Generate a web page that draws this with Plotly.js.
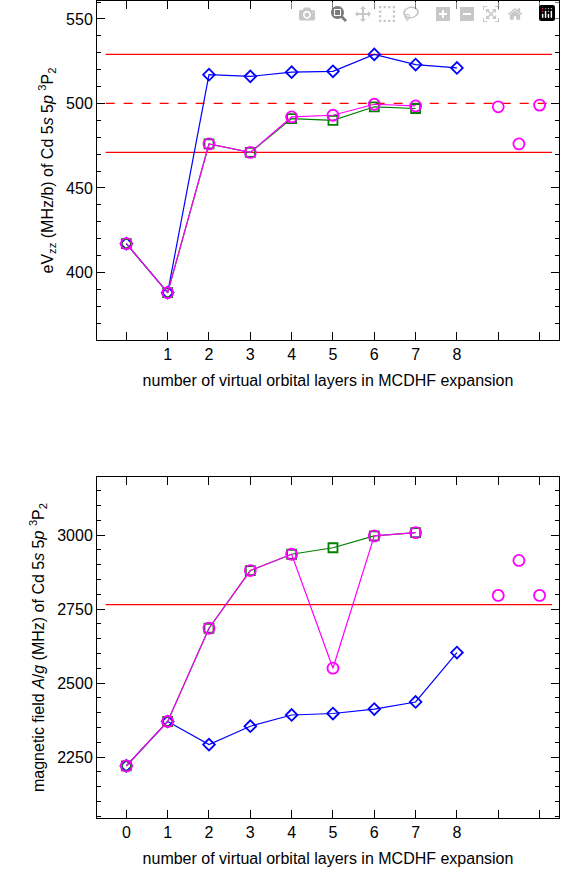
<!DOCTYPE html>
<html><head><meta charset="utf-8">
<script src="https://cdn.plot.ly/plotly-3.0.1.min.js"></script>
</head><body style="margin:0"><div id="c"></div>
<script>
// layer index
const layers=[0,1,2,3,4,5,6,7];
const layersBlue=[0,1,2,3,4,5,6,7,8];
const extraX=[9,9.5,10];
const refX=[-0.5,10.3];

// top panel: eVzz (MHz/b)
const efgBlue=[417,388,517,516,518.5,519,529,523,521];
const efgGreen=[417,388,476,471,491,490,498,497];
const efgMag=[417,388,476,471,492,493,499.5,498.5];
const efgExtra=[498,476,499];
const efgRefLines=[529,471];
const efgDashed=500;

// bottom panel: A/g (MHz)
const agBlue=[2220,2370,2292,2354,2392,2397,2412,2436,2603];
const agGreen=[2220,2370,2685,2880,2935,2957,2997,3008];
const agMag=[2220,2370,2685,2880,2935,2550,2997,3008];
const agExtra=[2796,2914,2796];
const agRefLine=2765;

const BLUE="blue",GREEN="green",MAG="magenta",RED="red";
const mk=(sym,c)=>({symbol:sym,size:sym.startsWith("circle")?11:9,color:c,line:{color:c,width:1.8}});
const series=(x,y,c,sym,ax,mode)=>({x,y,mode:mode||"lines+markers",xaxis:ax[0],yaxis:ax[1],
  line:{color:c,width:1.2},marker:mk(sym,c),cliponaxis:false});
const ref=(y,ax,dash)=>({x:refX,y:[y,y],mode:"lines",xaxis:ax[0],yaxis:ax[1],
  line:{color:RED,width:1.3,dash:dash||"solid"}});

const T=["x","y"],B=["x2","y2"];
const traces=[
  ref(efgRefLines[0],T),ref(efgRefLines[1],T),ref(efgDashed,T,"dash"),ref(agRefLine,B),
  series(layersBlue,efgBlue,BLUE,"diamond-open",T),
  series(layers,efgGreen,GREEN,"square-open",T),
  series(layers,efgMag,MAG,"circle-open",T),
  series(extraX,efgExtra,MAG,"circle-open",T,"markers"),
  series(layersBlue,agBlue,BLUE,"diamond-open",B),
  series(layers,agGreen,GREEN,"square-open",B),
  series(layers,agMag,MAG,"circle-open",B),
  series(extraX,agExtra,MAG,"circle-open",B,"markers")
];

const mt=1,mb=44,H=884,ph=H-mt-mb;
const dom=(top,bot)=>[(H-mb-bot)/ph,(H-mb-top)/ph];
const tf=()=>({family:"Liberation Sans",size:16});
const ax=()=>({ticks:"inside",ticklen:8,tickwidth:1,tickcolor:"black",showline:true,mirror:"allticks",
  linecolor:"black",linewidth:1,showgrid:false,zeroline:false,color:"black",layer:"above traces",tickfont:tf()});
const xtitle="number of virtual orbital layers in MCDHF expansion";

Plotly.newPlot("c",traces,{
  width:561,height:884,margin:{l:97,r:2,t:mt,b:mb},font:{family:"Liberation Sans",color:"black"},
  xaxis:Object.assign(ax(),{domain:[0,1],anchor:"y",range:[-0.71,10.47],tickmode:"array",tickvals:[0,1,2,3,4,5,6,7,8,9,10],
    ticktext:["","1","2","3","4","5","6","7","8","",""],title:{text:xtitle,font:tf(),standoff:12}}),
  yaxis:Object.assign(ax(),{domain:dom(1,340),anchor:"x",range:[360,560.6],tickmode:"array",tickvals:[400,450,500,550],
    minor:{ticks:"inside",ticklen:4,dtick:10,tickcolor:"black"},
    title:{text:"eV<sub>zz</sub> (MHz/b) of Cd 5<i>s</i> 5<i>p</i> <sup>3</sup>P<sub>2</sub>",font:tf(),standoff:8}}),
  xaxis2:Object.assign(ax(),{domain:[0,1],anchor:"y2",range:[-0.71,10.47],tickmode:"array",tickvals:[0,1,2,3,4,5,6,7,8,9,10],
    ticktext:["0","1","2","3","4","5","6","7","8","",""],title:{text:xtitle,font:tf(),standoff:12}}),
  yaxis2:Object.assign(ax(),{domain:dom(477,818),anchor:"x2",range:[2044,3196],tickmode:"array",tickvals:[2250,2500,2750,3000],
    minor:{ticks:"inside",ticklen:4,dtick:50,tickcolor:"black"},
    title:{text:"magnetic field <i>A</i>/<i>g</i> (MHz) of Cd 5<i>s</i> 5<i>p</i> <sup>3</sup>P<sub>2</sub>",font:tf(),standoff:8}}),
  showlegend:false
});
</script></body></html>
